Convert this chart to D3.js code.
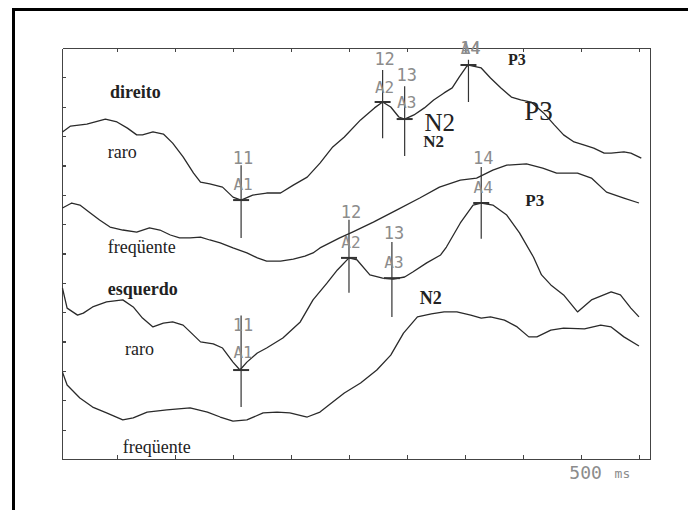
<!DOCTYPE html>
<meta charset="utf-8">
<style>
  html, body { margin: 0; background: #fff; overflow: hidden; }
  svg { display: block; }
  .axis path, .axis line { fill: none; stroke: #444; stroke-width: 1.2; shape-rendering: crispEdges; }
  .trace { fill: none; stroke: #2a2a2a; stroke-width: 1.3; stroke-linejoin: round; }
  .mark line { stroke: #333; stroke-width: 1.2; }
  .mk { font-family: "DejaVu Sans Mono", monospace; fill: #8c8c8c; font-size: 17px; text-anchor: middle; }
  .lbl { font-family: "Liberation Serif", "Times New Roman", serif; fill: #222; }
</style>
<body>
<script src="https://d3js.org/d3.v7.min.js"></script>
<script>

  // time (ms) of the sampled points, one list per trace
  var raroDirT = [53,60,74,90,100,109,117,122,131,140,148,157,166,172,180,191,200,207,217,229,241,252,264,275,286,296,310,322,329,336,343,348,356,365,373,382,389,395,401,403,414,422,431,440,448,457,468,477,485,494,503,511,520,526,537,543,552];
  var raroDirV = [11.14,11.34,11.41,11.58,11.48,11.27,11.04,11.04,11.14,11.07,10.76,10.29,9.74,9.43,9.37,9.26,8.92,8.82,8.99,9.06,9.06,9.33,9.60,10.08,10.63,10.97,11.55,11.96,12.16,11.99,11.65,11.58,11.72,11.96,12.23,12.47,12.64,13.01,13.35,13.42,13.32,12.98,12.64,12.33,12.23,12.16,11.78,11.38,11.04,10.80,10.69,10.59,10.42,10.42,10.46,10.42,10.25];

  var freqDirT = [53,61,68,77,85,94,105,117,128,137,146,154,163,172,180,189,200,212,221,229,241,252,262,269,275,292,303,321,341,361,378,396,410,424,436,453,467,479,497,509,522,537,550];
  var freqDirV = [8.55,8.72,8.65,8.38,8.14,7.90,7.80,7.73,7.87,7.80,7.63,7.53,7.53,7.56,7.46,7.36,7.19,7.02,6.85,6.74,6.74,6.81,6.91,7.02,7.19,7.53,7.73,8.07,8.48,8.89,9.26,9.50,9.57,9.84,10.01,10.05,9.91,9.74,9.74,9.57,9.09,8.89,8.72];

  var raroEsqT = [53,57,66,71,79,91,105,114,122,131,140,148,157,166,172,183,191,200,206,212,221,229,243,258,269,281,290,300,307,318,329,338,348,355,367,379,384,396,407,414,424,436,447,459,466,474,485,497,509,526,534,543,550];
  var raroEsqV = [5.82,5.14,4.90,4.97,5.18,5.35,5.42,5.18,4.80,4.50,4.63,4.67,4.56,4.22,3.99,3.92,3.78,3.30,3.03,3.30,3.61,3.78,4.12,4.67,5.42,5.99,6.44,6.85,6.78,6.27,6.16,6.13,6.20,6.37,6.68,6.95,7.22,8.04,8.65,8.72,8.65,8.31,7.70,6.88,6.27,5.93,5.59,5.01,5.42,5.69,5.59,5.14,4.84];

  var freqEsqT = [53,57,68,79,91,105,114,126,143,163,178,189,200,212,226,238,249,264,275,286,296,310,324,336,347,359,371,382,393,405,414,422,434,445,455,462,474,485,503,517,526,537,550];
  var freqEsqV = [2.96,2.52,2.08,1.77,1.57,1.33,1.40,1.60,1.67,1.74,1.60,1.43,1.29,1.33,1.57,1.60,1.57,1.43,1.60,1.94,2.25,2.59,3.03,3.54,4.29,4.84,4.94,5.01,5.01,4.90,4.80,4.84,4.73,4.50,4.16,4.16,4.39,4.46,4.43,4.56,4.50,4.16,3.85];

  // peak cursors: number, name, latency, amplitude, cursor top / bottom, label levels
  var mkNum   = ["11","12","13","14","11","12","13","14"];
  var mkName  = ["A1","A2","A3","A4","A1","A2","A3","A4"];
  var mkT     = [207,329,348,403,207,300,337,414];
  var mkV     = [8.82,12.16,11.58,13.42,3.03,6.85,6.16,8.72];
  var mkTop   = [10.01,13.25,12.70,13.60,4.89,8.15,7.39,9.95];
  var mkBot   = [7.53,10.93,10.32,12.16,1.77,5.66,4.84,7.50];
  var mkNumV  = [10.05,13.42,12.87,13.79,4.36,8.21,7.49,10.05];
  var mkNameV = [9.16,12.47,11.96,13.79,3.44,7.19,6.51,9.06];

  var xTicks = [100,150,200,250,300,350,400,450,500,550];
  var yTicks = [1,2,3,4,5,6,7,8,9,10,11,12,13];

  var width = 688, height = 510;

  var svg = d3.select("body").append("svg")
      .attr("width", width)
      .attr("height", height);

  // outer frame of the figure (only left and top edges are in view)
  svg.append("path")
      .attr("d", "M13.5," + height + "V9.5H" + width)
      .style("fill", "none").style("stroke", "#000").style("stroke-width", 3);

  var x = d3.scaleLinear().domain([52.6, 559.5]).range([62, 650]);
  var y = d3.scaleLinear().domain([0, 14]).range([459, 48]);

  svg.append("g").attr("class", "axis")
      .attr("transform", "translate(0," + y(0) + ")")
      .call(d3.axisBottom(x).tickValues(xTicks).tickSize(-4).tickSizeOuter(0).tickFormat(""));
  svg.append("g").attr("class", "axis")
      .attr("transform", "translate(0," + y(14) + ")")
      .call(d3.axisTop(x).tickValues(xTicks).tickSize(-4).tickSizeOuter(0).tickFormat(""));
  svg.append("g").attr("class", "axis")
      .attr("transform", "translate(" + x(52.6) + ",0)")
      .call(d3.axisLeft(y).tickValues(yTicks).tickSize(-4).tickSizeOuter(0).tickFormat(""));
  svg.append("g").attr("class", "axis")
      .attr("transform", "translate(" + x(559.5) + ",0)")
      .call(d3.axisRight(y).tickValues([]).tickSizeOuter(0));

  var line = d3.line()
      .x(function(d) { return x(d[0]); })
      .y(function(d) { return y(d[1]); });

  var traces = [[raroDirT, raroDirV], [freqDirT, freqDirV], [raroEsqT, raroEsqV], [freqEsqT, freqEsqV]];
  traces.forEach(function(tr) {
      svg.append("path")
          .attr("class", "trace")
          .attr("d", line(d3.zip(tr[0], tr[1])));
  });

  // cursors
  var marks = svg.selectAll(".mark")
      .data(mkT.map(function(t, i) { return i; }))
      .enter().append("g").attr("class", "mark");

  marks.append("line")
      .attr("x1", function(i) { return x(mkT[i]); })
      .attr("x2", function(i) { return x(mkT[i]); })
      .attr("y1", function(i) { return y(mkTop[i]); })
      .attr("y2", function(i) { return y(mkBot[i]); });
  marks.append("line")
      .style("stroke-width", 2)
      .attr("x1", function(i) { return x(mkT[i]) - 8; })
      .attr("x2", function(i) { return x(mkT[i]) + 8; })
      .attr("y1", function(i) { return y(mkV[i]); })
      .attr("y2", function(i) { return y(mkV[i]); });
  marks.append("text")
      .attr("class", "mk")
      .attr("x", function(i) { return x(mkT[i]) + 2; })
      .attr("y", function(i) { return y(mkNumV[i]); })
      .text(function(i) { return mkNum[i]; });
  marks.append("text")
      .attr("class", "mk")
      .style("font-size", "16px")
      .attr("x", function(i) { return x(mkT[i]) + 2; })
      .attr("y", function(i) { return y(mkNameV[i]); })
      .text(function(i) { return mkName[i]; });

  // condition labels
  function label(t, v, txt, size, bold) {
      svg.append("text").attr("class", "lbl")
          .attr("x", x(t)).attr("y", y(v))
          .style("font-size", size + "px")
          .style("font-weight", bold ? "bold" : "normal")
          .text(txt);
  }
  label(94, 12.28, "direito", 18, true);
  label(92, 10.26, "raro", 18, false);
  label(92, 7.03, "freqüente", 18, false);
  label(92, 5.58, "esquerdo", 18, true);
  label(107, 3.54, "raro", 18, false);
  label(105, 0.20, "freqüente", 18, false);

  // component labels
  label(365, 11.17, "N2", 25, false);
  label(364, 10.63, "N2", 17, true);
  label(437, 13.42, "P3", 16, true);
  label(451, 11.55, "P3", 27, false);
  label(452, 8.62, "P3", 17, true);
  label(361, 5.28, "N2", 18, true);

  svg.append("text").attr("class", "mk")
      .style("font-size", "18px").style("text-anchor", "middle")
      .attr("x", x(504)).attr("y", y(0) + 20)
      .text("500");
  svg.append("text").attr("class", "mk")
      .style("font-size", "13px").style("text-anchor", "start")
      .attr("x", x(529)).attr("y", y(0) + 19)
      .text("ms");

</script>
</body>
